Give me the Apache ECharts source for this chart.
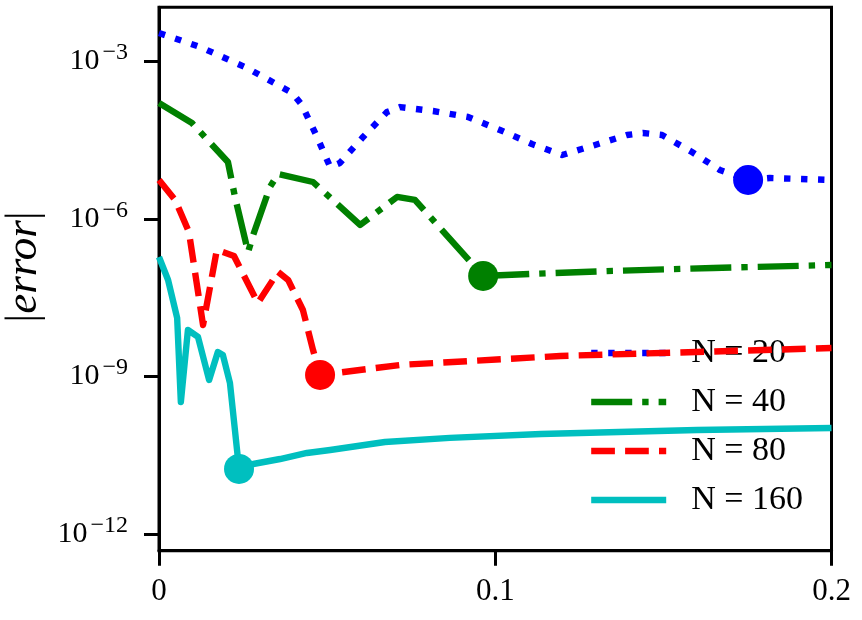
<!DOCTYPE html>
<html>
<head>
<meta charset="utf-8">
<script src="https://cdn.jsdelivr.net/npm/echarts@6/dist/echarts.min.js"></script>
<style>
  html, body { margin: 0; padding: 0; background: #fff; }
  #chart { width: 862px; height: 620px; }
</style>
</head>
<body>
<div id="chart"></div>
<script>
// values (x, |error|)
const seriesNames = ['N = 20', 'N = 40', 'N = 80', 'N = 160'];

const blueX = [0, 0.0122, 0.0262, 0.0396, 0.0425, 0.0470, 0.0509, 0.0538, 0.0607, 0.0678, 0.0717, 0.0815, 0.0919, 0.1014, 0.1109, 0.1199, 0.1297, 0.1392, 0.1439, 0.1496, 0.1585, 0.1668, 0.1752, 0.1817, 0.2];
const blueErr = [3.40e-3, 1.85e-3, 7.36e-4, 2.47e-4, 1.46e-4, 3.59e-5, 9.64e-6, 1.15e-5, 3.59e-5, 1.07e-4, 1.33e-4, 1.12e-4, 8.61e-5, 4.88e-5, 2.64e-5, 1.63e-5, 2.53e-5, 3.92e-5, 4.28e-5, 3.92e-5, 1.86e-5, 8.45e-6, 5.46e-6, 5.96e-6, 5.46e-6];

const greenX = [0, 0.0098, 0.0205, 0.0226, 0.0265, 0.0280, 0.0330, 0.0354, 0.0458, 0.0598, 0.0708, 0.0761, 0.0964, 0.1103, 0.1350, 0.1648, 0.2];
const greenErr = [1.59e-4, 6.62e-5, 1.20e-5, 2.60e-6, 2.33e-7, 4.91e-7, 4.02e-6, 7.10e-6, 5.00e-6, 7.62e-7, 2.60e-6, 2.28e-6, 8.17e-8, 8.91e-8, 1.02e-7, 1.16e-7, 1.32e-7];

const redX = [0, 0.0048, 0.0089, 0.0131, 0.0172, 0.0223, 0.0294, 0.0354, 0.0384, 0.0428, 0.0458, 0.0479, 0.0717, 0.1193, 0.2];
const redErr = [5.46e-6, 2.28e-6, 5.60e-7, 9.55e-9, 2.55e-7, 1.96e-7, 2.50e-8, 9.73e-8, 6.86e-8, 1.84e-8, 3.20e-9, 1.07e-9, 1.66e-9, 2.46e-9, 3.49e-9];

const cyanX = [0, 0.0027, 0.0054, 0.0065, 0.0086, 0.0116, 0.0149, 0.0175, 0.0190, 0.0211, 0.0238, 0.0280, 0.0360, 0.0440, 0.0509, 0.0672, 0.0865, 0.1136, 0.1600, 0.2];
const cyanErr = [1.87e-7, 6.86e-8, 1.30e-8, 3.28e-10, 7.67e-9, 5.65e-9, 8.59e-10, 2.93e-9, 2.57e-9, 7.53e-10, 1.75e-11, 2.17e-11, 2.70e-11, 3.52e-11, 4.01e-11, 5.69e-11, 6.80e-11, 8.07e-11, 9.62e-11, 1.05e-10];

// index of the big dot on each curve
const markerIndex = [22, 12, 11, 10];

const xTicks = [0, 0.1, 0.2];
const yTickExps = [-12, -9, -6, -3];

const FONT = 'Liberation Serif';
const colors = ['#0000ff', '#008000', '#ff0000', '#00bfbf'];
const dashes = [[6.4, 10.6], [41, 10, 6.4, 10], [23.7, 10.2], 'solid'];
const xs = [blueX, greenX, redX, cyanX];
const ys = [blueErr, greenErr, redErr, cyanErr];

const chart = echarts.init(document.getElementById('chart'));

let series = [];
seriesNames.forEach(function (name, k) {
  series.push({
    name: name,
    type: 'line',
    data: xs[k].map(function (x, i) { return [x, ys[k][i]]; }),
    symbol: 'none',
    itemStyle: { color: colors[k] },
    lineStyle: { color: colors[k], width: 6.4, type: dashes[k], cap: 'butt', join: 'round' },
    z: 2 + k
  });
  let m = markerIndex[k];
  series.push({
    name: name + ' end',
    type: 'scatter',
    data: [[xs[k][m], ys[k][m]]],
    symbol: 'circle',
    symbolSize: 30,
    itemStyle: { color: colors[k], opacity: 1 },
    z: 10
  });
});

const yTicks = yTickExps.map(function (e) { return Math.pow(10, e); });

chart.setOption({
  animation: false,
  backgroundColor: '#fff',
  grid: {
    left: 159, right: 30.5, top: 7.3, bottom: 69.3,
    containLabel: false, outerBoundsMode: 'none',
    show: true, borderColor: '#000', borderWidth: 3, backgroundColor: 'transparent'
  },
  legend: {
    data: seriesNames,
    orient: 'vertical',
    left: 583, top: 330.5,
    itemWidth: 75, itemHeight: 1, itemGap: 14,
    lineStyle: { width: 6.4 },
    textStyle: { fontFamily: FONT, fontSize: 34, color: '#000', lineHeight: 35, padding: [0, 0, 0, 20] }
  },
  xAxis: {
    type: 'value',
    min: xTicks[0], max: xTicks[xTicks.length - 1], interval: 0.1,
    axisLine: { show: true, lineStyle: { color: '#000', width: 3 } },
    axisTick: { show: true, length: 15, lineStyle: { color: '#000', width: 3 } },
    axisLabel: { fontFamily: FONT, fontSize: 31, color: '#000', margin: 26 },
    splitLine: { show: false }
  },
  yAxis: {
    type: 'log',
    logBase: 10,
    min: Math.pow(10, -12.312),
    max: Math.pow(10, -1.979),
    axisLine: { show: true, lineStyle: { color: '#000', width: 3 } },
    axisTick: { show: true, length: 15, customValues: yTicks, lineStyle: { color: '#000', width: 3 } },
    minorTick: { show: false },
    splitLine: { show: false },
    axisLabel: {
      customValues: yTicks,
      margin: 31,
      formatter: function (v) {
        let e = Math.round(Math.log10(v));
        return '{b|10}{s|\u2212' + Math.abs(e) + '}';
      },
      rich: {
        b: { fontFamily: FONT, fontSize: 30, color: '#000', lineHeight: 30 },
        s: { fontFamily: FONT, fontSize: 24, color: '#000', lineHeight: 24, padding: [0, 0, 17, 3] }
      }
    },
    name: '{b||}{i|error}{b||}',
    nameLocation: 'middle',
    nameRotate: 90,
    nameGap: 90,
    nameTextStyle: {
      padding: [0, 0, 0, 24],
      rich: {
        b: { fontFamily: FONT, fontSize: 45, color: '#000' },
        i: { fontFamily: FONT, fontSize: 45, fontStyle: 'italic', color: '#000' }
      }
    }
  },
  series: series
});
</script>
</body>
</html>
